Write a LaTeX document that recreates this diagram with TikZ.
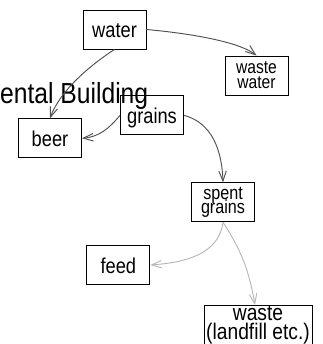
\documentclass[tikz,border=0pt]{standalone}
\usepackage{fontspec}
\newfontfamily\nf[FakeStretch=0.85]{Liberation Sans}
\usetikzlibrary{arrows.meta}
\newcommand\tightlines{\lineskiplimit=-20pt\relax\lineskip=0pt\relax}
\newcommand\fontww{\nf\fontsize{18.4pt}{14.8pt}\selectfont\tightlines}
\newcommand\fontsg{\nf\fontsize{19pt}{14.2pt}\selectfont\tightlines}
\newcommand\fontwl{\nf\fontsize{22.6pt}{18.6pt}\selectfont\tightlines}
\begin{document}
\begin{tikzpicture}[x=1pt,y=1pt,
 box/.style={draw=black, line width=0.9pt, minimum width=63pt, minimum height=39pt, inner sep=0pt, align=center},
 one/.style={box, font=\nf\fontsize{21.5pt}{21.5pt}\selectfont, text height=16.4pt, text depth=0pt},
 edge/.style={line width=0.95pt, -{Straight Barb[length=10pt,width=7.5pt]}},
 darkedge/.style={edge, draw=black!68},
 lightedge/.style={edge, draw=black!28}]
\useasboundingbox (0,0) rectangle (322,-344);
\node[anchor=base west, inner sep=0pt, font=\nf\fontsize{29pt}{29pt}\selectfont] (title) at (0,-103.3) {ental Building};
\node[one] (water) at (114.5,-29.5) {water};
\node[box, font=\fontww] (ww) at (256.5,-75.5) {waste\\water};
\node[one] (beer) at (50,-138.3) {beer};
\node[one] (grains) at (152,-115.3) {grains};
\node[box, font=\fontsg] (sg) at (223,-202.3) {spent\\grains};
\node[one] (feed) at (118.3,-265) {feed};
\node[box, minimum width=108pt, font=\fontwl] (waste) at (258,-325) {waste\\(landfill etc.)};
\draw[darkedge] (water.east) to[out=-5,in=142,looseness=0.6] (ww.north);
\draw[darkedge] (water.south) to[out=-147,in=70,looseness=0.8] (beer.north);
\draw[darkedge] (grains.west) to[out=-130,in=5] (beer.east);
\draw[darkedge] (grains.east) to[out=-15,in=92] (sg.north);
\draw[lightedge] (sg.south) to[out=-97,in=4] (feed.east);
\draw[lightedge] (sg.south) to[out=-57,in=100] ([xshift=-3pt]waste.north);
\end{tikzpicture}
\end{document}
